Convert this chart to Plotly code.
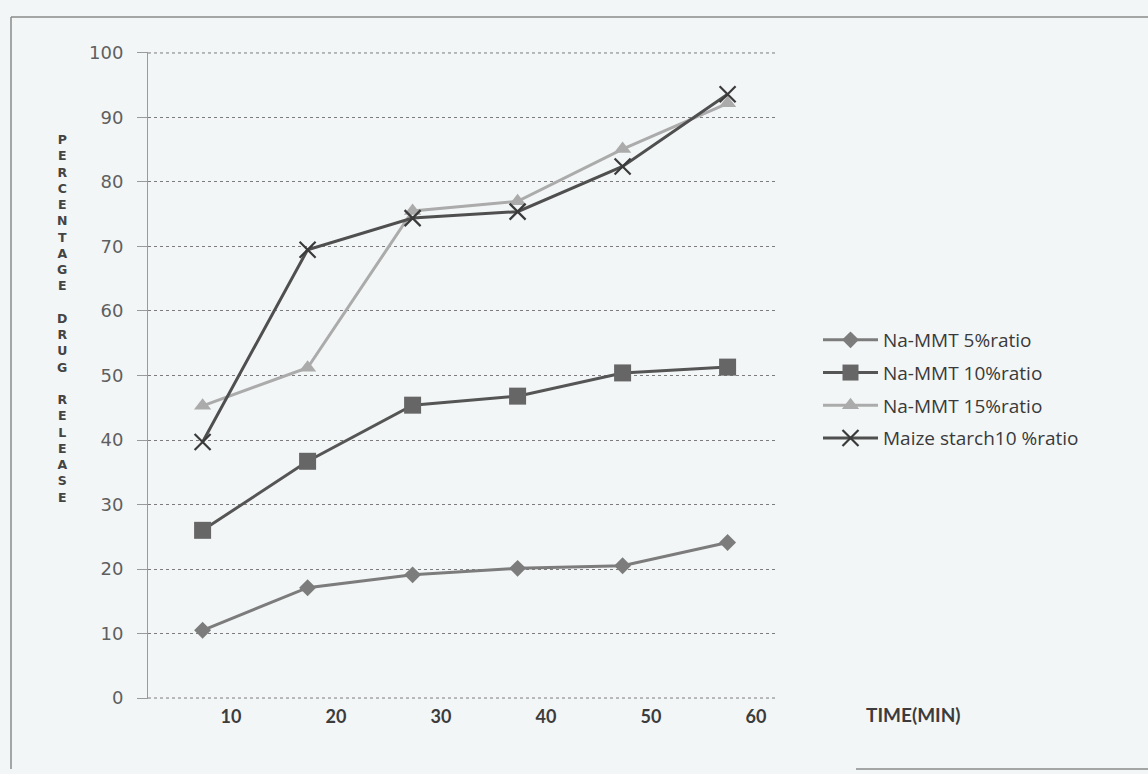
import plotly.graph_objects as go

# ---- data ----
time_labels = ["10", "20", "30", "40", "50", "60"]
na_mmt_5 = [10.5, 17.1, 19.1, 20.1, 20.5, 24.1]
na_mmt_10 = [26.0, 36.7, 45.4, 46.8, 50.4, 51.3]
na_mmt_15 = [45.3, 51.2, 75.5, 77.0, 85.1, 92.2]
maize_10 = [39.7, 69.5, 74.4, 75.4, 82.4, 93.6]

series_names = ["Na-MMT 5%ratio", "Na-MMT 10%ratio", "Na-MMT 15%ratio", "Maize starch10 %ratio"]
y_ticks = [0, 10, 20, 30, 40, 50, 60, 70, 80, 90, 100]
y_title = "PERCENTAGE DRUG RELEASE"

# ---- layout geometry (pixels) ----
W, H = 1148, 774
L, R, T, B = 148, 778, 52, 699  # plot area
pw, ph = R - L, B - T
y_pad = 0.15
grid_color = "#7c7c7c"


def px_x(x):
    return (x - L) / pw


def px_y(y):
    return (B - y) / ph


idx = list(range(len(time_labels)))
label_offset = 0.27

fig = go.Figure()

styles = [
    dict(line=dict(color="#7c7c7c", width=3),
         marker=dict(symbol="diamond", size=13, color="#7c7c7c")),
    dict(line=dict(color="#555555", width=3),
         marker=dict(symbol="square", size=17, color="#666666")),
    dict(line=dict(color="#ababab", width=3),
         marker=dict(symbol="triangle-up", size=15, color="#ababab")),
    dict(line=dict(color="#4f4f4f", width=3),
         marker=dict(symbol="x-thin", size=16, color="#3a3a3a",
                     line=dict(width=2.2, color="#3a3a3a"))),
]
for i, (name, vals) in enumerate(zip(series_names, [na_mmt_5, na_mmt_10, na_mmt_15, maize_10])):
    fig.add_trace(go.Scatter(
        x=idx, y=vals, mode="lines+markers", name=name,
        legendgroup=str(i), **styles[i]))

# edge gridlines (plotly drops the ones at the plot boundary)
for yv in (y_ticks[0], y_ticks[-1]):
    fig.add_shape(type="line", xref="paper", yref="y", x0=0, x1=1, y0=yv, y1=yv,
                  line=dict(color=grid_color, width=1, dash="dot"), layer="below")

# vertical stacked y-axis title
letters = []
for word in y_title.split(" "):
    letters.append("<br>".join(list(word)))
title_text = "<br> <br>".join(letters)

fig.add_annotation(
    text="<b>" + title_text + "</b>", xref="paper", yref="paper",
    x=px_x(62), y=px_y(318), showarrow=False, align="center",
    font=dict(family="DejaVu Sans", size=12.5, color="#444444"),
    xanchor="center", yanchor="middle")

fig.add_annotation(
    text="<b>TIME(MIN)</b>", xref="paper", yref="paper",
    x=px_x(914), y=px_y(714), showarrow=False,
    font=dict(family="Lato", size=19, color="#3c3c3c"),
    xanchor="center", yanchor="middle")

# page frame
frame_color = "#8a8a8a"
fig.add_shape(type="line", xref="paper", yref="paper",
              x0=px_x(11), x1=px_x(W), y0=px_y(17), y1=px_y(17),
              line=dict(color=frame_color, width=1.5))
fig.add_shape(type="line", xref="paper", yref="paper",
              x0=px_x(11), x1=px_x(11), y0=px_y(17), y1=px_y(769),
              line=dict(color=frame_color, width=1.5))
fig.add_shape(type="line", xref="paper", yref="paper",
              x0=px_x(856), x1=px_x(W), y0=px_y(769), y1=px_y(769),
              line=dict(color=frame_color, width=1.5))

fig.update_layout(
    width=W, height=H,
    margin=dict(l=L, r=W - R, t=T, b=H - B),
    paper_bgcolor="#f3f6f7", plot_bgcolor="#f3f6f7",
    showlegend=True,
    legend=dict(x=px_x(818), y=px_y(321), xanchor="left", yanchor="top",
                font=dict(family="Open Sans", size=19, color="#3a3a3a"),
                bgcolor="rgba(0,0,0,0)", tracegroupgap=5, itemwidth=55),
    xaxis=dict(range=[-0.52, 5.48], tickvals=[i + label_offset for i in idx],
               ticktext=time_labels, showgrid=False, zeroline=False,
               showline=False, ticks="", ticklabelstandoff=5,
               tickfont=dict(family="Lato", size=18, color="#3c3c3c", weight="bold")),
    yaxis=dict(range=[-y_pad, 100 + y_pad], tickvals=y_ticks, showgrid=True,
               gridcolor=grid_color, griddash="dot", gridwidth=1,
               zeroline=False, showline=True, linecolor="#9a9a9a", linewidth=1,
               ticks="outside", ticklen=10, tickcolor="#9a9a9a",
               ticklabelstandoff=10,
               tickfont=dict(family="DejaVu Sans", size=18, color="#5f5f5f")),
)

fig.write_html("out.html", config={"displayModeBar": False},
               post_script="document.body.style.margin='0px';")
